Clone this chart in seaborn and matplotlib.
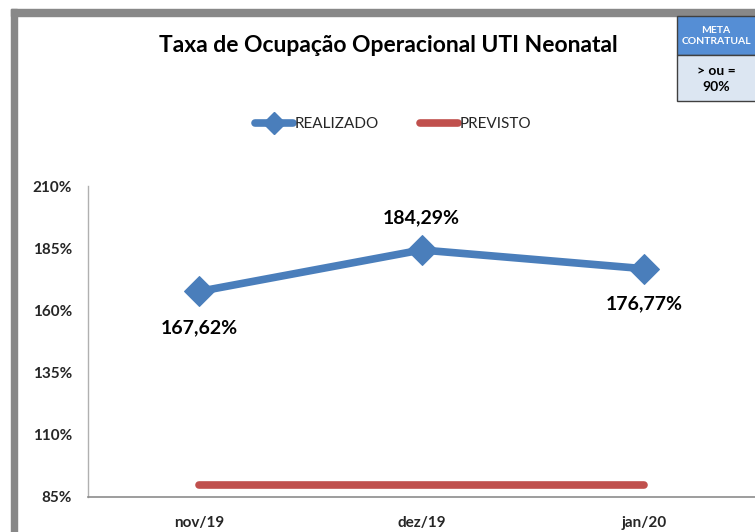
import matplotlib
matplotlib.use("Agg")
import matplotlib.pyplot as plt
import seaborn as sns
import pandas as pd
from matplotlib.patches import Rectangle
from matplotlib.lines import Line2D

sns.set_theme(style="white")
plt.rcParams['font.family'] = ['Lato', 'DejaVu Sans']

months = ["nov/19", "dez/19", "jan/20"]
realizado = [167.62, 184.29, 176.77]
previsto = [90.0, 90.0, 90.0]
value_labels = ["167,62%", "184,29%", "176,77%"]
yticks = [85, 110, 135, 160, 185, 210]

df = pd.DataFrame({"idx": range(len(months)), "mes": months,
                   "REALIZADO": realizado, "PREVISTO": previsto})

fig = plt.figure(figsize=(7.55, 5.32), dpi=100)
W, H = 755, 532
ax = fig.add_axes([88 / W, 1 - 497 / H, 1 - 88 / W, (497 - 186) / H])

blue = "#4a7ebb"
red = "#c0504d"

sns.lineplot(data=df, x="idx", y="PREVISTO", ax=ax, color=red, linewidth=5.5,
             solid_capstyle="round")
sns.lineplot(data=df, x="idx", y="REALIZADO", ax=ax, color=blue, linewidth=5.5,
             marker="D", markersize=15, markeredgecolor=blue, solid_capstyle="round")

ax.set_xlim(-0.5, 2.5)
ax.set_ylim(85, 210)
ax.set_yticks(yticks)
ax.set_yticklabels([f"{t}%" for t in yticks], fontsize=11, fontweight="bold")
ax.set_xticks(range(len(months)))
ax.set_xticklabels(months, fontsize=11, fontweight="bold")
ax.tick_params(axis="y", length=0, pad=11.5)
ax.tick_params(axis="x", length=0, pad=14)
ax.set_xlabel("")
ax.set_ylabel("")
for s in ["top", "right"]:
    ax.spines[s].set_visible(False)
ax.spines["left"].set_color("#b0b0b0")
ax.spines["left"].set_linewidth(1)
ax.spines["bottom"].set_color("#8c8c8c")
ax.spines["bottom"].set_linewidth(1.2)

offsets = [-26, 23, -25]
for i, (v, lab) in enumerate(zip(realizado, value_labels)):
    ax.annotate(lab, (i, v), xytext=(0, offsets[i]), textcoords="offset points",
                ha="center", va="center", fontsize=14, fontweight="bold", color="black")

# Title
fig.text(388 / W, 1 - 45 / H, "Taxa de Ocupação Operacional UTI Neonatal",
         ha="center", va="center", fontsize=16.5, fontweight="bold", color="black")

# Legend
handles = [Line2D([0], [0], color=blue, lw=5.5, marker="D", markersize=11,
                  solid_capstyle="round"),
           Line2D([0], [0], color=red, lw=5.5, solid_capstyle="round")]
fig.legend(handles, ["REALIZADO", "PREVISTO"], loc="center",
           bbox_to_anchor=(393 / W, 1 - 124 / H), ncol=2, frameon=False,
           fontsize=11, handlelength=2.5, handletextpad=0.1, columnspacing=2.7)

# Gray frame borders
fig.patches.append(Rectangle((11 / W, 0), 6 / W, 1 - 9 / H, transform=fig.transFigure,
                             color="#888888", zorder=0))
fig.patches.append(Rectangle((11 / W, 1 - 16 / H), 1 - 11 / W, 7 / H,
                             transform=fig.transFigure, color="#888888", zorder=0))

# Meta contratual box
fig.patches.append(Rectangle((677 / W, 1 - 55 / H), 80 / W, 39 / H, transform=fig.transFigure,
                             facecolor="#558ed5", edgecolor="#404040", lw=1, zorder=5))
fig.patches.append(Rectangle((677 / W, 1 - 101 / H), 80 / W, 46 / H, transform=fig.transFigure,
                             facecolor="#dce6f2", edgecolor="#404040", lw=1, zorder=5))
fig.text(716 / W, 1 - 36 / H, "META\nCONTRATUAL", ha="center", va="center",
         fontsize=7.5, fontweight="bold", color="white", linespacing=1.3, zorder=6)
fig.text(716 / W, 1 - 79 / H, "> ou =\n90%", ha="center", va="center",
         fontsize=10, fontweight="bold", color="black", linespacing=1.4, zorder=6)

fig.savefig("out.png", dpi=100)
